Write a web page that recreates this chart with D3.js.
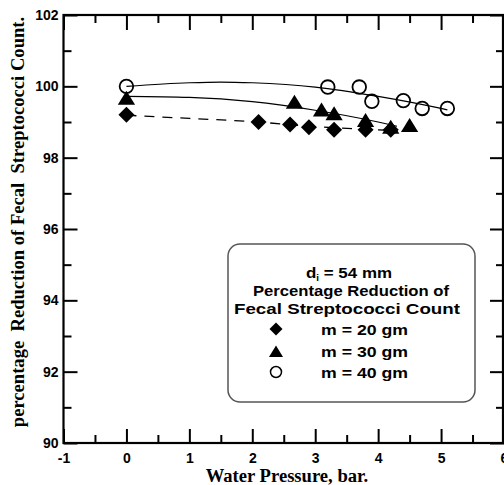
<!DOCTYPE html>
<html><head><meta charset="utf-8">
<script src="https://cdn.jsdelivr.net/npm/d3@7"></script>
<style>
body{margin:0;background:#fff;}
svg{display:block;}
</style></head>
<body>
<svg id="c" width="504" height="485"></svg>
<script>
// ---- data ----
const xTicks = [-1,0,1,2,3,4,5,6];
const yTicks = [90,92,94,96,98,100,102];
const m20x = [0, 2.1, 2.6, 2.9, 3.3, 3.8, 4.2];
const m20y = [99.2, 99.0, 98.93, 98.85, 98.78, 98.78, 98.78];
const m30x = [0, 2.67, 3.1, 3.3, 3.8, 4.2, 4.5];
const m30y = [99.65, 99.54, 99.32, 99.22, 99.03, 98.84, 98.89];
const m40x = [0, 3.2, 3.7, 3.9, 4.4, 4.7, 5.1];
const m40y = [100.0, 99.98, 99.98, 99.58, 99.6, 99.38, 99.38];
// fitted trend curves
const fit20x = [0, 1, 2, 3, 4, 4.3];
const fit20y = [99.19, 99.1, 99.01, 98.87, 98.78, 98.76];
const fit30x = [0, 1, 2, 3, 4, 4.3];
const fit30y = [99.72, 99.69, 99.57, 99.33, 99.0, 98.88];
const fit40x = [0, 1, 1.5, 2, 3, 4, 5, 5.1];
const fit40y = [100.0, 100.1, 100.12, 100.1, 99.98, 99.72, 99.38, 99.34];
const legendLabels = ["m = 20 gm", "m = 30 gm", "m = 40 gm"];

const svg = d3.select("#c");
const L = 63.5, R = 504, T = 15, B = 443;
const x = d3.scaleLinear().domain([-1, 6]).range([L, R]);
const y = d3.scaleLinear().domain([90, 102]).range([B, T]);

const sans = "'Liberation Sans', Arial, sans-serif";
const serif = "'Liberation Serif', 'Times New Roman', serif";

function styleAxis(g, fs){
  g.select(".domain").remove();
  g.selectAll(".tick line").attr("stroke", "#000").attr("stroke-width", 2);
  g.selectAll(".tick text").attr("font-family", sans).attr("font-weight", "bold")
    .attr("font-size", fs).attr("fill", "#000");
}
const minorX = d3.range(-0.5, 6, 1);
const minorY = d3.range(91, 102, 2);
const plain = d => String(d);

// bottom
svg.append("g").attr("transform", `translate(0,${B})`)
  .call(d3.axisBottom(x).tickValues(xTicks).tickSize(-14).tickPadding(10).tickFormat(plain))
  .call(g => styleAxis(g, 14));
svg.append("g").attr("transform", `translate(0,${B})`)
  .call(d3.axisBottom(x).tickValues(minorX).tickSize(-8).tickFormat(""))
  .call(g => styleAxis(g, 14));
// top
svg.append("g").attr("transform", `translate(0,${T})`)
  .call(d3.axisTop(x).tickValues(xTicks).tickSize(-15).tickFormat(""))
  .call(g => styleAxis(g, 14));
svg.append("g").attr("transform", `translate(0,${T})`)
  .call(d3.axisTop(x).tickValues(minorX).tickSize(-8).tickFormat(""))
  .call(g => styleAxis(g, 14));
// left
svg.append("g").attr("transform", `translate(${L},0)`)
  .call(d3.axisLeft(y).tickValues(yTicks).tickSize(-14).tickPadding(5).tickFormat(plain))
  .call(g => styleAxis(g, 14));
svg.append("g").attr("transform", `translate(${L},0)`)
  .call(d3.axisLeft(y).tickValues(minorY).tickSize(-8).tickFormat(""))
  .call(g => styleAxis(g, 14));
// right
svg.append("g").attr("transform", `translate(${R},0)`)
  .call(d3.axisRight(y).tickValues(yTicks).tickSize(-14).tickFormat(""))
  .call(g => styleAxis(g, 14));
svg.append("g").attr("transform", `translate(${R},0)`)
  .call(d3.axisRight(y).tickValues(minorY).tickSize(-8).tickFormat(""))
  .call(g => styleAxis(g, 14));

// frame
svg.append("rect").attr("x", L).attr("y", T).attr("width", R - L - 1).attr("height", B - T)
  .attr("fill", "none").attr("stroke", "#000").attr("stroke-width", 2.2);

// axis titles
svg.append("text").attr("x", 287).attr("y", 482).attr("text-anchor", "middle")
  .attr("font-family", serif).attr("font-weight", "bold").attr("font-size", 18.6)
  .text("Water Pressure, bar.");
svg.append("text").attr("transform", "translate(24,222) rotate(-90)").attr("text-anchor", "middle")
  .attr("font-family", serif).attr("font-weight", "bold").attr("font-size", 18.6)
  .style("white-space", "pre")
  .text("percentage  Reduction of Fecal  Streptococci Count.");

// fit lines
const line = d3.line().x(d => x(d[0])).y(d => y(d[1])).curve(d3.curveMonotoneX);
svg.append("path").datum(d3.zip(fit20x, fit20y)).attr("d", line)
  .attr("fill", "none").attr("stroke", "#000").attr("stroke-width", 1.3).attr("stroke-dasharray", "10,8");
svg.append("path").datum(d3.zip(fit30x, fit30y)).attr("d", line)
  .attr("fill", "none").attr("stroke", "#000").attr("stroke-width", 1.2);
svg.append("path").datum(d3.zip(fit40x, fit40y)).attr("d", line)
  .attr("fill", "none").attr("stroke", "#000").attr("stroke-width", 1.2);

// markers
const diamond = s => `M0,${-s}L${s},0L0,${s}L${-s},0Z`;
const tri = s => `M0,${-s}L${s * 1.08},${s * 0.75}L${-s * 1.08},${s * 0.75}Z`;
svg.append("g").selectAll("path").data(d3.zip(m20x, m20y)).join("path")
  .attr("transform", d => `translate(${x(d[0])},${y(d[1])})`).attr("d", diamond(8)).attr("fill", "#000");
svg.append("g").selectAll("path").data(d3.zip(m30x, m30y)).join("path")
  .attr("transform", d => `translate(${x(d[0])},${y(d[1])})`).attr("d", tri(8)).attr("fill", "#000");
svg.append("g").selectAll("circle").data(d3.zip(m40x, m40y)).join("circle")
  .attr("cx", d => x(d[0])).attr("cy", d => y(d[1])).attr("r", 6.8)
  .attr("fill", "none").attr("stroke", "#000").attr("stroke-width", 1.8);

// legend
const lfs = 15.5;
const lg = svg.append("g");
lg.append("rect").attr("x", 228).attr("y", 244).attr("width", 247).attr("height", 158).attr("rx", 12)
  .attr("fill", "#fff").attr("stroke", "#555").attr("stroke-width", 1.5);
const t0 = lg.append("text").attr("x", 306).attr("y", 278)
  .attr("font-family", sans).attr("font-weight", "bold").attr("font-size", lfs)
  .attr("textLength", 86).attr("lengthAdjust", "spacingAndGlyphs");
t0.append("tspan").text("d");
t0.append("tspan").attr("font-size", 9).attr("dy", 3).text("i");
t0.append("tspan").attr("dy", -3).text(" = 54 mm");
lg.append("text").attr("x", 253).attr("y", 296)
  .attr("font-family", sans).attr("font-weight", "bold").attr("font-size", lfs)
  .attr("textLength", 196).attr("lengthAdjust", "spacingAndGlyphs").text("Percentage Reduction of");
lg.append("text").attr("x", 234).attr("y", 314)
  .attr("font-family", sans).attr("font-weight", "bold").attr("font-size", lfs)
  .attr("textLength", 226).attr("lengthAdjust", "spacingAndGlyphs").text("Fecal Streptococci Count");
const ly = [329, 351, 372];
legendLabels.forEach((lab, i) => {
  lg.append("text").attr("x", 321).attr("y", ly[i] + 5.5)
    .attr("font-family", sans).attr("font-weight", "bold").attr("font-size", lfs)
    .attr("textLength", 87).attr("lengthAdjust", "spacingAndGlyphs").text(lab);
});
lg.append("path").attr("transform", `translate(276,${ly[0]})`).attr("d", diamond(6.5)).attr("fill", "#000");
lg.append("path").attr("transform", `translate(276,${ly[1] + 1})`).attr("d", tri(6.5)).attr("fill", "#000");
lg.append("circle").attr("cx", 276).attr("cy", ly[2]).attr("r", 5.5)
  .attr("fill", "none").attr("stroke", "#000").attr("stroke-width", 1.5);
</script>
</body></html>
